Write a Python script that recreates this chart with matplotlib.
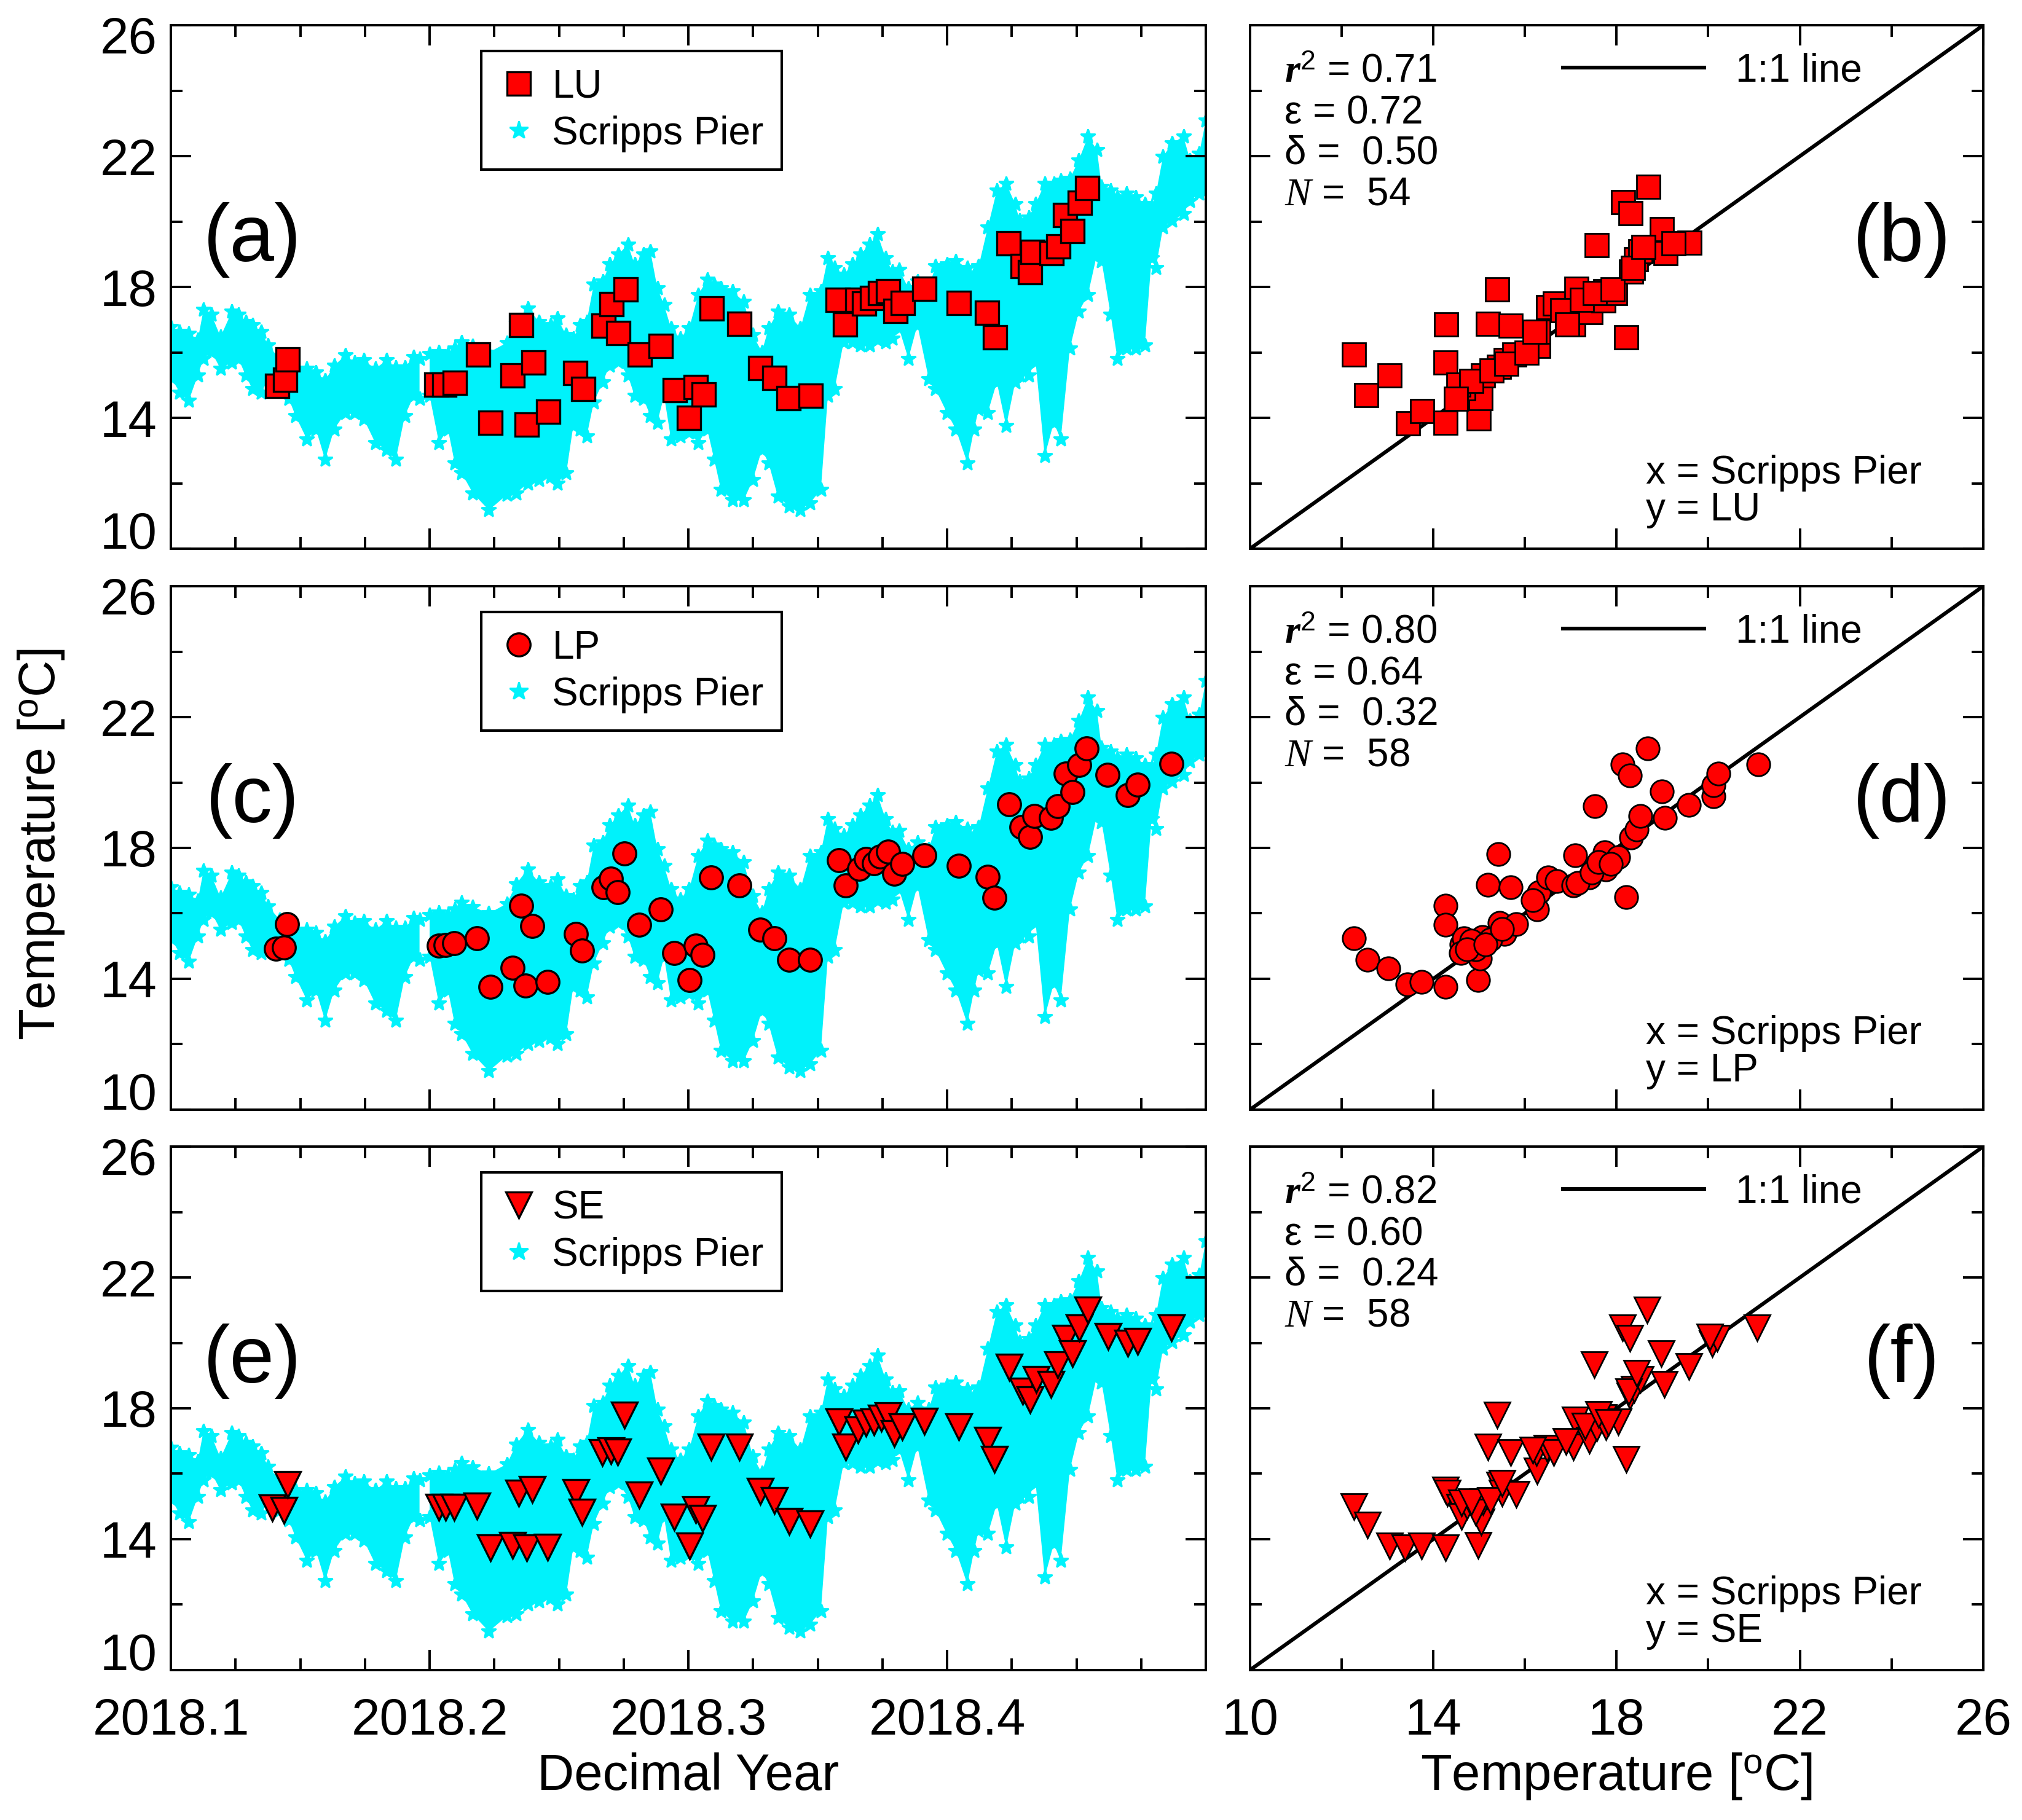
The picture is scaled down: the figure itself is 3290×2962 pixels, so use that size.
import numpy as np
import matplotlib.pyplot as plt
from matplotlib.lines import Line2D
from matplotlib.transforms import ScaledTranslation

plt.rcParams['font.family'] = 'Liberation Sans'
plt.rcParams['mathtext.fontset'] = 'custom'
plt.rcParams['mathtext.rm'] = 'Liberation Sans'
plt.rcParams['mathtext.it'] = 'Liberation Serif:italic'
plt.rcParams['mathtext.bf'] = 'Liberation Serif:italic:bold'

nan = float('nan')

# Scripps Pier band (upper / lower envelope)
pier_t = [2018.1000, 2018.1034, 2018.1069, 2018.1104, 2018.1126, 2018.1157, 2018.1192, 2018.1236,
          2018.1262, 2018.1289, 2018.1315, 2018.1350, 2018.1376, 2018.1420, 2018.1456, 2018.1482,
          2018.1526, 2018.1561, 2018.1596, 2018.1631, 2018.1675, 2018.1710, 2018.1746, 2018.1790,
          2018.1833, 2018.1869, 2018.1904, 2018.1939, 2018.1961, 2018.1980,
          2018.2000, 2018.2036, 2018.2071, 2018.2097, 2018.2124, 2018.2167, 2018.2229, 2018.2299,
          2018.2335, 2018.2379, 2018.2423, 2018.2467, 2018.2493, 2018.2528, 2018.2555, 2018.2581,
          2018.2607, 2018.2634, 2018.2669, 2018.2695, 2018.2730, 2018.2766, 2018.2792, 2018.2827,
          2018.2853, 2018.2880, 2018.2906, 2018.2933, 2018.2968, 2018.3003, 2018.3038, 2018.3073,
          2018.3100, 2018.3126, 2018.3170, 2018.3214, 2018.3249, 2018.3284, 2018.3310, 2018.3346,
          2018.3390, 2018.3433, 2018.3469, 2018.3512, 2018.3539, 2018.3565, 2018.3600, 2018.3635,
          2018.3665, 2018.3700, 2018.3731, 2018.3762, 2018.3788, 2018.3814, 2018.3850, 2018.3885,
          2018.3929, 2018.3955, 2018.3999, 2018.4034, 2018.4078, 2018.4104, 2018.4122, 2018.4157,
          2018.4192, 2018.4228, 2018.4263, 2018.4280, 2018.4315, 2018.4342, 2018.4377, 2018.4412,
          2018.4439, 2018.4474, 2018.4509, 2018.4544, 2018.4579, 2018.4597, 2018.4632, 2018.4658,
          2018.4693, 2018.4728, 2018.4764, 2018.4790, 2018.4807, 2018.4834, 2018.4869, 2018.4913,
          2018.4939, 2018.4974, 2018.5000]
pier_hi = [16.79, 16.63, 16.58, 16.38, 17.30, 17.15, 16.48, 17.25,
           17.15, 16.94, 16.84, 16.63, 16.22, 15.81, 15.60, 15.50,
           15.50, 15.40, 15.14, 15.60, 15.91, 15.70, 15.76, 15.50,
           15.76, 15.55, 15.55, 15.86, 15.80, nan,
           15.96, 16.02, 15.96, 16.12, 16.32, 16.20, 16.00, 16.30,
           16.90, 17.35, 16.94, 16.84, 17.04, 16.53, 16.43, 16.84,
           16.94, 18.07, 18.17, 18.69, 19.00, 19.30, 18.69, 19.00,
           19.10, 17.97, 17.45, 16.74, 16.43, 16.74, 17.76, 18.23,
           18.07, 17.97, 17.87, 17.56, 16.53, 16.02, 16.74, 17.25,
           17.15, 16.74, 17.76, 17.87, 18.89, 18.59, 18.38, 18.69,
           19.00, 19.30, 19.61, 18.89, 18.48, 18.53, 17.97, 18.17,
           17.97, 18.64, 18.69, 18.79, 18.59, 18.38, 18.64, 19.82,
           20.95, 21.16, 20.54, 20.03, 20.13, 20.54, 21.16, 21.16,
           21.26, 21.31, 21.88, 22.60, 22.19, 21.06, 20.95, 20.75,
           20.85, 20.75, 20.54, 20.44, 20.85, 21.98, 22.39, 22.60,
           21.88, 22.08, 23.10]
pier_lo = [15.24, 14.78, 14.52, 15.30, 15.81, 16.02, 15.50, 15.70,
           15.80, 15.30, 14.88, 14.78, 15.19, 14.88, 14.58, 14.06,
           13.34, 13.65, 12.72, 13.65, 14.16, 14.16, 13.96, 13.24,
           13.03, 12.72, 14.06, 14.68, 14.58, nan,
           14.68, 13.24, 13.65, 12.62, 12.31, 11.70, 11.18, 11.65,
           11.70, 12.00, 12.10, 12.20, 12.00, 12.31, 13.75, 13.65,
           13.44, 14.47, 15.09, 15.60, 15.71, 15.30, 14.68, 14.58,
           14.06, 13.86, 14.68, 13.34, 13.44, 13.55, 13.24, 13.65,
           12.72, 11.80, 11.49, 11.49, 12.10, 13.03, 12.62, 11.59,
           11.29, 11.18, 11.39, 11.80, 14.68, 14.88, 16.32, 16.32,
           16.22, 16.22, 16.38, 16.32, 16.43, 16.74, 15.81, 16.84,
           15.19, 14.88, 14.16, 13.65, 12.62, 13.65, 14.27, 14.16,
           15.09, 13.75, 15.09, 15.30, 15.30, 15.71, 12.83, 13.86,
           13.34, 16.12, 17.25, 17.76, 19.00, 18.79, 17.15, 15.81,
           16.12, 16.12, 16.22, 18.89, 18.59, 19.82, 20.03, 20.23,
           20.64, 20.85, 20.95]

# site time series
lu_t = [2018.1412, 2018.1441, 2018.1451, 2018.2027, 2018.2057, 2018.2097, 2018.2187, 2018.2236,
        2018.2321, 2018.2353, 2018.2374, 2018.2401, 2018.2458, 2018.2563, 2018.2594, 2018.2673,
        2018.2702, 2018.2729, 2018.2758, 2018.2812, 2018.2893, 2018.2948, 2018.3003, 2018.3029,
        2018.3058, 2018.3089, 2018.3196, 2018.3277, 2018.3332, 2018.3387, 2018.3473, 2018.3577,
        2018.3606, 2018.3653, 2018.3680, 2018.3709, 2018.3740, 2018.3771, 2018.3801, 2018.3828,
        2018.3913, 2018.4046, 2018.4155, 2018.4184, 2018.4238, 2018.4293, 2018.4320, 2018.4330,
        2018.4403, 2018.4430, 2018.4456, 2018.4484, 2018.4513, 2018.4541]
lu_temp = [14.97, 15.17, 15.79, 15.01, 15.01, 15.07, 15.93, 13.86, 15.30, 16.84, 13.80, 15.69,
           14.19, 15.37, 14.88, 16.81, 17.48, 16.60, 17.92, 15.93, 16.20, 14.85, 14.01, 14.94,
           14.71, 17.35, 16.87, 15.52, 15.22, 14.61, 14.68, 17.61, 16.86, 17.61, 17.50, 17.66,
           17.81, 17.87, 17.27, 17.51, 17.95, 17.51, 17.22, 16.46, 19.33, 18.64, 18.45, 19.08,
           19.03, 19.25, 20.20, 19.72, 20.57, 21.02]

lp_t = [2018.1405, 2018.1438, 2018.1448, 2018.2036, 2018.2062, 2018.2095, 2018.2183, 2018.2235,
        2018.2320, 2018.2353, 2018.2371, 2018.2397, 2018.2456, 2018.2564, 2018.2590, 2018.2673,
        2018.2701, 2018.2727, 2018.2753, 2018.2809, 2018.2892, 2018.2946, 2018.3028, 2018.3054,
        2018.3005, 2018.3088, 2018.3196, 2018.3278, 2018.3332, 2018.3389, 2018.3469, 2018.3582,
        2018.3608, 2018.3660, 2018.3686, 2018.3716, 2018.3742, 2018.3771, 2018.3796, 2018.3827,
        2018.3912, 2018.4046, 2018.4157, 2018.4183, 2018.4240, 2018.4286, 2018.4320, 2018.4338,
        2018.4402, 2018.4428, 2018.4459, 2018.4485, 2018.4510, 2018.4539, 2018.4619, 2018.4698,
        2018.4735, 2018.4866]
lp_temp = [14.92, 14.95, 15.68, 15.01, 15.03, 15.08, 15.23, 13.75, 14.33, 16.24, 13.79, 15.61,
           13.91, 15.37, 14.87, 16.80, 17.06, 16.64, 17.84, 15.65, 16.13, 14.78, 15.01, 14.74,
           13.96, 17.09, 16.85, 15.51, 15.23, 14.59, 14.59, 17.63, 16.85, 17.37, 17.66, 17.53,
           17.74, 17.89, 17.22, 17.51, 17.77, 17.46, 17.11, 16.47, 19.33, 18.63, 18.34, 18.97,
           18.92, 19.28, 20.27, 19.70, 20.53, 21.05, 20.24, 19.61, 19.93, 20.58]

se_t = [2018.1392, 2018.1438, 2018.1451, 2018.2036, 2018.2062, 2018.2095, 2018.2183, 2018.2235,
        2018.2320, 2018.2345, 2018.2374, 2018.2397, 2018.2456, 2018.2564, 2018.2590, 2018.2668,
        2018.2701, 2018.2727, 2018.2753, 2018.2809, 2018.2892, 2018.2946, 2018.3028, 2018.3054,
        2018.3005, 2018.3088, 2018.3196, 2018.3278, 2018.3332, 2018.3389, 2018.3469, 2018.3582,
        2018.3608, 2018.3655, 2018.3686, 2018.3716, 2018.3745, 2018.3771, 2018.3796, 2018.3827,
        2018.3912, 2018.4046, 2018.4157, 2018.4183, 2018.4240, 2018.4291, 2018.4320, 2018.4343,
        2018.4402, 2018.4428, 2018.4459, 2018.4485, 2018.4510, 2018.4544, 2018.4621, 2018.4698,
        2018.4735, 2018.4866]
se_temp = [14.95, 14.88, 15.68, 14.98, 14.98, 14.98, 15.01, 13.73, 13.81, 15.40, 13.73, 15.53,
           13.76, 15.42, 14.83, 16.65, 16.70, 16.67, 17.80, 15.35, 16.08, 14.67, 14.91, 14.64,
           13.80, 16.81, 16.81, 15.46, 15.19, 14.54, 14.46, 17.59, 16.81, 17.34, 17.54, 17.59,
           17.70, 17.78, 17.23, 17.43, 17.61, 17.43, 17.02, 16.44, 19.26, 18.53, 18.27, 18.89,
           18.74, 19.33, 20.15, 19.68, 20.46, 21.01, 20.20, 19.99, 20.04, 20.46]

# matched pairs (x = Scripps Pier, y = site)
lu_pier = [12.27, 13.04, 12.54, 13.45, 13.76, 14.26, 14.28, 14.26, 14.99, 15.03, 14.66, 15.08,
           15.44, 15.58, 15.19, 15.69, 15.40, 15.77, 16.29, 16.29, 16.50, 16.65, 17.06, 17.12,
           17.43, 17.56, 17.75, 17.72, 17.97, 18.21, 18.32, 18.43, 18.14, 18.30, 18.69, 18.52,
           18.99, 19.07, 19.59, 14.55, 14.83, 15.27, 15.60, 16.04, 16.21, 16.81, 17.25, 17.53,
           17.92, 18.36, 18.58, 19.24, 16.92, 14.50]
lu_site = [15.93, 15.29, 14.69, 13.83, 14.21, 13.86, 16.85, 15.70, 13.99, 14.61, 14.91, 15.29,
           15.56, 15.77, 16.88, 16.82, 17.93, 15.93, 16.20, 16.63, 17.39, 17.50, 16.85, 17.95,
           17.23, 19.28, 17.87, 17.58, 17.82, 16.47, 18.47, 18.85, 20.60, 20.25, 21.06, 19.09,
           19.76, 19.03, 19.35, 15.02, 15.12, 15.45, 15.66, 15.99, 16.63, 17.28, 17.61, 17.82,
           17.93, 18.58, 19.22, 19.33, 16.85, 14.58]

lp_pier = [12.27, 12.56, 13.02, 13.44, 13.75, 14.26, 14.26, 14.26, 14.62, 14.67, 14.60, 14.98,
           15.02, 15.07, 14.93, 15.42, 15.19, 15.69, 15.45, 15.55, 15.81, 16.27, 16.30, 16.51,
           16.69, 17.05, 17.10, 17.41, 17.56, 17.67, 17.77, 17.74, 18.03, 18.21, 17.53, 18.32,
           18.44, 18.52, 18.13, 18.29, 18.68, 18.99, 19.06, 19.58, 20.11, 20.12, 20.22, 21.09,
           14.83, 15.24, 14.73, 15.14, 15.50, 16.17, 17.15, 17.46, 17.61, 17.87]
lp_site = [15.23, 14.59, 14.31, 13.83, 13.91, 13.75, 16.24, 15.65, 15.06, 15.23, 14.78, 13.96,
           14.61, 15.27, 14.90, 17.82, 16.88, 16.80, 15.70, 15.37, 15.68, 16.12, 16.65, 17.09,
           16.99, 16.85, 17.77, 17.09, 17.42, 17.61, 17.35, 17.87, 17.72, 16.49, 19.28, 18.32,
           18.57, 18.97, 20.56, 20.22, 21.05, 19.73, 18.92, 19.31, 19.57, 19.91, 20.27, 20.56,
           15.17, 15.21, 14.90, 15.06, 15.53, 16.41, 16.93, 17.25, 17.56, 17.51]

se_pier = [12.27, 12.56, 13.05, 13.38, 13.75, 14.26, 14.26, 14.31, 14.57, 14.62, 14.73, 14.98,
           15.04, 15.09, 14.93, 15.40, 15.19, 15.69, 15.45, 15.50, 15.81, 16.27, 16.25, 16.48,
           16.63, 17.05, 17.10, 17.41, 17.56, 17.72, 17.77, 18.03, 18.21, 17.51, 18.29, 18.39,
           18.52, 18.13, 18.29, 18.67, 18.98, 19.04, 19.58, 20.09, 20.20, 21.07, 14.62, 14.83,
           15.24, 15.50, 16.17, 16.89, 17.31, 17.61, 17.82, 18.26, 18.44, 20.04]
se_site = [15.00, 14.44, 13.80, 13.74, 13.79, 13.74, 15.50, 15.40, 14.98, 14.69, 15.02, 13.81,
           14.52, 15.14, 14.83, 17.80, 16.81, 16.65, 15.66, 15.40, 15.37, 16.08, 16.65, 16.77,
           16.65, 16.82, 17.64, 17.03, 17.39, 17.71, 17.43, 17.59, 16.44, 19.33, 18.37, 18.58,
           18.89, 20.46, 20.15, 21.00, 19.68, 18.74, 19.27, 19.97, 20.15, 20.46, 15.11, 15.14,
           15.19, 15.70, 16.72, 16.99, 17.46, 17.82, 17.56, 18.50, 19.07, 20.17]

site_names = ['LU', 'LP', 'SE']
site_markers = ['s', 'o', 'v']
stat_r2 = ['0.71', '0.80', '0.82']
stat_eps = ['0.72', '0.64', '0.60']
stat_delta = ['0.50', '0.32', '0.24']
left_letters = ['(a)', '(c)', '(e)']
right_letters = ['(b)', '(d)', '(f)']

year_ticks = [2018.1, 2018.2, 2018.3, 2018.4, 2018.5]
temp_ticks = [10, 14, 18, 22, 26]
one_to_one = [10, 26]

cyan = '#00f2fb'
series = [(lu_t, lu_temp, lu_pier, lu_site),
          (lp_t, lp_temp, lp_pier, lp_site),
          (se_t, se_temp, se_pier, se_site)]

fig = plt.figure(figsize=(16.45, 14.81), dpi=200)
row_y0 = [0.6985, 0.3903, 0.0824]
row_h = 0.2876


def style_axes(ax):
    ax.tick_params(which='both', direction='in', top=True, right=True, width=1.4)
    ax.tick_params(which='major', length=12, labelsize=30)
    ax.tick_params(which='minor', length=7)
    ax.tick_params(axis='y', pad=8)
    ax.tick_params(axis='x', pad=16)
    for s in ax.spines.values():
        s.set_linewidth(1.4)


for i in range(3):
    t, temp, pier, site = series[i]
    name = site_names[i]
    mk = site_markers[i]
    ms = 15 if mk == 'v' else 13.5

    # time series panel
    ax = fig.add_axes([0.0845, row_y0[i], 0.5119, row_h])
    ax.fill_between(pier_t, pier_lo, pier_hi, color=cyan, lw=0, zorder=1)
    ax.plot(pier_t, pier_hi, '*', color=cyan, ms=9, zorder=1)
    ax.plot(pier_t, pier_lo, '*', color=cyan, ms=9, zorder=1)
    ax.plot(t, temp, mk, ms=ms, mfc='red', mec='k', mew=1.2, ls='none', zorder=3)
    ax.set_xlim(2018.1, 2018.5)
    ax.set_ylim(10, 26)
    ax.set_xticks(year_ticks)
    ax.set_xticks(np.arange(2018.1, 2018.501, 0.025), minor=True)
    ax.set_yticks(temp_ticks)
    ax.set_yticks(np.arange(10, 27, 2), minor=True)
    style_axes(ax)
    # end labels kept inside the panel height, as in the original
    ylabs = ax.get_yticklabels()
    ylabs[0].set_va('baseline')
    ylabs[-1].set_va('top')
    ylabs[-1].set_transform(ylabs[-1].get_transform()
                            + ScaledTranslation(0, 5.5 / 72, fig.dpi_scale_trans))
    if i == 2:
        ax.set_xticklabels(['%.1f' % v for v in year_ticks[:-1]] + [''])
    else:
        ax.tick_params(axis='x', labelbottom=False)
    handles = [Line2D([], [], marker=mk, ls='none', ms=ms, mfc='red', mec='k', mew=1.2),
               Line2D([], [], marker='*', ls='none', ms=11, color=cyan)]
    leg = ax.legend(handles, [name, 'Scripps Pier'], loc='upper left',
                    bbox_to_anchor=(0.30, 0.746, 0.29, 0.205), mode='expand',
                    borderaxespad=0, fancybox=False, edgecolor='k', framealpha=1,
                    fontsize=23, handlelength=1.0, handletextpad=0.35,
                    borderpad=0.45, labelspacing=0.25)
    leg.get_frame().set_linewidth(1.5)
    ax.text(0.079, 0.59, left_letters[i], transform=ax.transAxes,
            ha='center', va='center', fontsize=47)

    # scatter panel
    bx = fig.add_axes([0.6182, row_y0[i], 0.3626, row_h])
    line, = bx.plot(one_to_one, one_to_one, 'k-', lw=2.2, zorder=2)
    bx.plot(pier, site, mk, ms=ms, mfc='red', mec='k', mew=1.0, ls='none', zorder=3)
    bx.set_xlim(10, 26)
    bx.set_ylim(10, 26)
    bx.set_xticks(temp_ticks)
    bx.set_xticks(np.arange(10, 27, 2), minor=True)
    bx.set_yticks(temp_ticks)
    bx.set_yticks(np.arange(10, 27, 2), minor=True)
    style_axes(bx)
    bx.tick_params(axis='y', labelleft=False)
    if i != 2:
        bx.tick_params(axis='x', labelbottom=False)
    lg = bx.legend([line], ['1:1 line'], loc='center left', bbox_to_anchor=(0.427, 0.913),
                   frameon=False, fontsize=23, handlelength=3.6, handletextpad=0.8,
                   borderpad=0, borderaxespad=0)
    stats = [r'$\mathbf{r}^{2}$ = ' + stat_r2[i],
             'ε = ' + stat_eps[i],
             'δ =  ' + stat_delta[i],
             r'$\mathit{N}$ =  %d' % len(site)]
    for txt, yy in zip(stats, [0.892, 0.812, 0.735, 0.657]):
        bx.text(0.047, yy, txt, transform=bx.transAxes, fontsize=23, va='baseline')
    bx.text(0.54, 0.125, 'x = Scripps Pier', transform=bx.transAxes, fontsize=23, va='baseline')
    bx.text(0.54, 0.054, 'y = ' + name, transform=bx.transAxes, fontsize=23, va='baseline')
    bx.text(0.889, 0.59, right_letters[i], transform=bx.transAxes,
            ha='center', va='center', fontsize=47)

fig.text(67 / 3290, 1 - 1374 / 2962, r'Temperature [$^{\rm o}$C]', rotation=90,
         ha='center', va='center', fontsize=30)
fig.text(1120 / 3290, 1 - 2891 / 2962, 'Decimal Year', ha='center', va='center', fontsize=30)
fig.text(2630 / 3290, 1 - 2891 / 2962, r'Temperature [$^{\rm o}$C]', ha='center', va='center',
         fontsize=30)

fig.savefig('out.png', dpi=200)
